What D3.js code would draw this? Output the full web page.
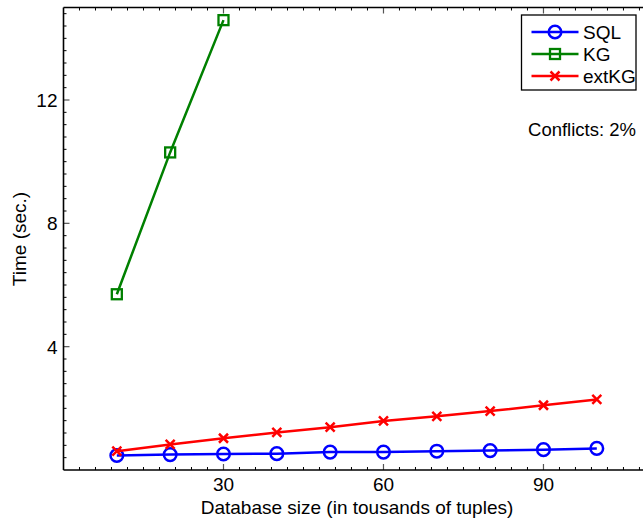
<!DOCTYPE html>
<html>
<head>
<meta charset="utf-8">
<script src="https://cdn.jsdelivr.net/npm/d3@7"></script>
<style>
  body { margin: 0; background: #fff; }
  svg { display: block; font-family: "Liberation Sans", Arial, sans-serif; }
</style>
</head>
<body>
<svg width="643" height="521"></svg>
<script>
const sizes = [10, 20, 30, 40, 50, 60, 70, 80, 90, 100];
const sqlTimes = [0.47, 0.50, 0.52, 0.53, 0.58, 0.58, 0.61, 0.63, 0.66, 0.70];
const kgSizes = [10, 20, 30];
const kgTimes = [5.70, 10.30, 14.59];
const extKgTimes = [0.61, 0.83, 1.03, 1.22, 1.39, 1.59, 1.74, 1.91, 2.10, 2.29];
const xTicks = [30, 60, 90];
const yTicks = [4, 8, 12];

const series = [
  { name: "SQL", color: "#0000ff", marker: "circle", xs: sizes, ys: sqlTimes },
  { name: "KG", color: "#008000", marker: "square", xs: kgSizes, ys: kgTimes },
  { name: "extKG", color: "#ff0000", marker: "cross", xs: sizes, ys: extKgTimes }
];

const svg = d3.select("svg");
const width = +svg.attr("width");
const margin = { top: 7.5, left: 63.5, bottom: 470 };

const x = d3.scaleLinear().domain([0, 110]).range([margin.left, margin.left + 110 * 5.333]);
const y = d3.scaleLinear().domain([0, 15]).range([margin.bottom, margin.top]);

// minor ticks, drawn inward
const xMinor = d3.range(0, 111, 3).filter(v => v % 30 !== 0);
const yMinor = d3.range(0, 15.01, 0.4).map(v => +v.toFixed(1)).filter(v => v % 4 !== 0);

const axes = svg.append("g");

function drawTicks(vals, isX, len, color, sw) {
  vals.forEach(v => {
    if (isX) {
      axes.append("line").attr("x1", x(v)).attr("x2", x(v))
        .attr("y1", margin.bottom).attr("y2", margin.bottom - len)
        .attr("stroke", color).attr("stroke-width", sw);
      axes.append("line").attr("x1", x(v)).attr("x2", x(v))
        .attr("y1", margin.top).attr("y2", margin.top + len)
        .attr("stroke", color).attr("stroke-width", sw);
    } else {
      axes.append("line").attr("y1", y(v)).attr("y2", y(v))
        .attr("x1", margin.left).attr("x2", margin.left + len)
        .attr("stroke", color).attr("stroke-width", sw);
    }
  });
}
drawTicks(xMinor, true, 3, "#000", 1);
drawTicks(yMinor, false, 3, "#000", 1);
drawTicks(xTicks, true, 6, "#555", 1.2);
drawTicks(yTicks, false, 6, "#555", 1.2);

// frame lines
axes.append("line").attr("x1", margin.left).attr("x2", width)
  .attr("y1", margin.bottom).attr("y2", margin.bottom).attr("stroke", "#000").attr("stroke-width", 1.6);
axes.append("line").attr("x1", margin.left).attr("x2", width)
  .attr("y1", margin.top).attr("y2", margin.top).attr("stroke", "#000").attr("stroke-width", 1.6);
axes.append("line").attr("x1", margin.left).attr("x2", margin.left)
  .attr("y1", margin.top).attr("y2", margin.bottom).attr("stroke", "#000").attr("stroke-width", 1.6);

// tick labels
axes.selectAll(".xl").data(xTicks).enter().append("text")
  .attr("x", d => x(d)).attr("y", margin.bottom + 21)
  .attr("text-anchor", "middle").style("font-size", "19px").text(d => d);
axes.selectAll(".yl").data(yTicks).enter().append("text")
  .attr("x", margin.left - 6).attr("y", d => y(d) + 7)
  .attr("text-anchor", "end").style("font-size", "19px").text(d => d);

// axis titles
svg.append("text").attr("x", 357).attr("y", 514)
  .attr("text-anchor", "middle").style("font-size", "19px")
  .text("Database size (in tousands of tuples)");
svg.append("text").attr("transform", "translate(26,239) rotate(-90)")
  .attr("text-anchor", "middle").style("font-size", "19px")
  .text("Time (sec.)");

const line = d3.line().x(d => x(d[0])).y(d => y(d[1]));

function drawMarker(g, type, cx, cy, color) {
  if (type === "circle") {
    g.append("circle").attr("cx", cx).attr("cy", cy).attr("r", 6.3)
      .attr("fill", "none").attr("stroke", color).attr("stroke-width", 2.5);
  } else if (type === "square") {
    g.append("rect").attr("x", cx - 5).attr("y", cy - 5).attr("width", 10).attr("height", 10)
      .attr("fill", "none").attr("stroke", color).attr("stroke-width", 2.3);
  } else {
    const s = 4.5;
    g.append("path").attr("d", `M${cx - s},${cy - s}L${cx + s},${cy + s}M${cx - s},${cy + s}L${cx + s},${cy - s}`)
      .attr("stroke", color).attr("stroke-width", 2.5);
  }
}

const plot = svg.append("g");
series.forEach(s => {
  const pts = s.xs.map((v, i) => [v, s.ys[i]]);
  plot.append("path").datum(pts).attr("d", line)
    .attr("fill", "none").attr("stroke", s.color).attr("stroke-width", 2.5);
  pts.forEach(p => drawMarker(plot, s.marker, x(p[0]), y(p[1]), s.color));
});

// legend
const legend = svg.append("g");
legend.append("rect").attr("x", 521.5).attr("y", 15).attr("width", 114.5).attr("height", 75)
  .attr("fill", "#fff").attr("stroke", "#000").attr("stroke-width", 1.3);
series.forEach((s, i) => {
  const ly = 32 + i * 22;
  legend.append("line").attr("x1", 531.5).attr("x2", 578.5).attr("y1", ly).attr("y2", ly)
    .attr("stroke", s.color).attr("stroke-width", 2.5);
  drawMarker(legend, s.marker, 555, ly, s.color);
  legend.append("text").attr("x", 583).attr("y", ly + 7)
    .style("font-size", "19px").text(s.name);
});

svg.append("text").attr("x", 636).attr("y", 136)
  .attr("text-anchor", "end").style("font-size", "18.5px").text("Conflicts: 2%");
</script>
</body>
</html>
